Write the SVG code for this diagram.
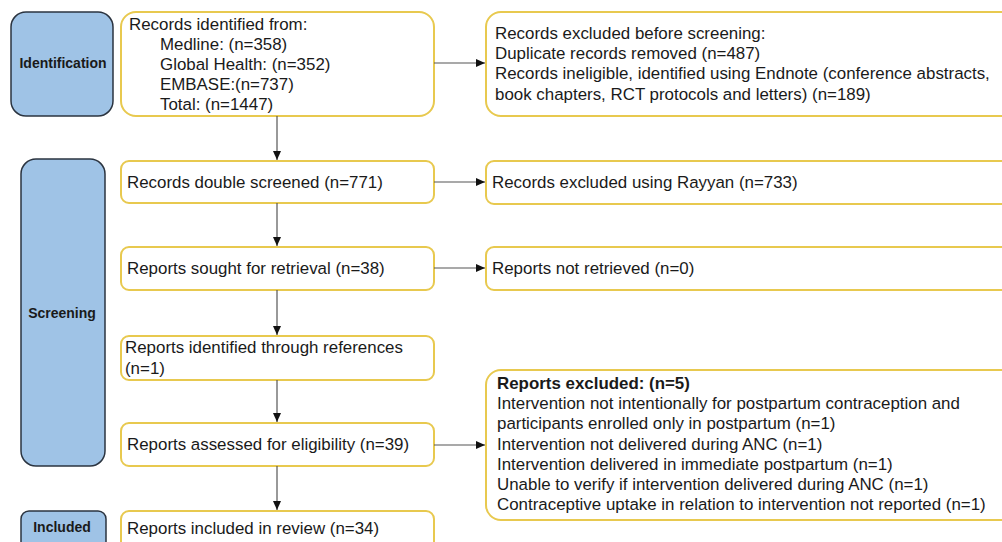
<svg xmlns="http://www.w3.org/2000/svg" width="1002" height="542" viewBox="0 0 1002 542">
<defs>
<marker id="ah" markerWidth="10" markerHeight="10" refX="9" refY="5" orient="auto" markerUnits="userSpaceOnUse">
<path d="M0,1 L9,5 L0,9 Z" fill="#111"/>
</marker>
<style>
.phase{fill:#9fc3e6;stroke:#2b3440;stroke-width:1.5}
.box{fill:#fff;stroke:#e8c94f;stroke-width:2}
.t{font-family:"Liberation Sans",Arial,sans-serif;font-size:16.9px;fill:#1a1a1a}
.pl{font-family:"Liberation Sans",Arial,sans-serif;font-size:14px;font-weight:bold;fill:#1a1a1a;text-anchor:middle}
.b{font-weight:bold}
.c{stroke:#555;stroke-width:1.2;fill:none;marker-end:url(#ah)}
</style>
</defs>
<rect width="1002" height="542" fill="#fff"/>
<g id="phase-identification"><rect class="phase" x="11" y="12" width="102" height="104" rx="15"/><text class="pl" x="63" y="68">Identification</text></g>
<g id="phase-screening"><rect class="phase" x="21" y="159" width="84" height="307" rx="15"/><text class="pl" x="62" y="318">Screening</text></g>
<g id="phase-included"><rect class="phase" x="21" y="511" width="85" height="50" rx="8"/><text class="pl" x="62" y="532">Included</text></g>

<g id="n-identified"><rect class="box" x="121" y="12" width="313" height="104" rx="15"/>
<text class="t" x="129" y="30">Records identified from:</text>
<text class="t" x="160" y="50">Medline: (n=358)</text>
<text class="t" x="160" y="70">Global Health: (n=352)</text>
<text class="t" x="160" y="90">EMBASE:(n=737)</text>
<text class="t" x="160" y="110">Total: (n=1447)</text></g>

<g id="n-excluded-before"><rect class="box" x="486" y="12" width="530" height="104" rx="15"/>
<text class="t" x="495" y="39">Records excluded before screening:</text>
<text class="t" x="495" y="59">Duplicate records removed (n=487)</text>
<text class="t" x="495" y="79">Records ineligible, identified using Endnote (conference abstracts,</text>
<text class="t" x="495" y="100">book chapters, RCT protocols and letters) (n=189)</text></g>

<g id="n-screened"><rect class="box" x="121" y="161" width="313" height="42" rx="8"/>
<text class="t" x="127" y="188">Records double screened (n=771)</text></g>
<g id="n-rayyan"><rect class="box" x="486" y="161" width="530" height="43" rx="8"/>
<text class="t" x="492" y="188">Records excluded using Rayyan (n=733)</text></g>

<g id="n-sought"><rect class="box" x="121" y="247" width="313" height="43" rx="8"/>
<text class="t" x="127" y="274">Reports sought for retrieval (n=38)</text></g>
<g id="n-notretrieved"><rect class="box" x="486" y="247" width="530" height="43" rx="8"/>
<text class="t" x="492" y="274">Reports not retrieved (n=0)</text></g>

<g id="n-references"><rect class="box" x="121" y="336" width="313" height="44" rx="8"/>
<text class="t" x="125" y="353">Reports identified through references</text>
<text class="t" x="125" y="374">(n=1)</text></g>

<g id="n-assessed"><rect class="box" x="121" y="423" width="313" height="43" rx="8"/>
<text class="t" x="127" y="450">Reports assessed for eligibility (n=39)</text></g>

<g id="n-reports-excluded"><rect class="box" x="486" y="370" width="530" height="150" rx="15"/>
<text class="t b" x="497" y="389">Reports excluded: (n=5)</text>
<text class="t" x="497" y="409">Intervention not intentionally for postpartum contraception and</text>
<text class="t" x="497" y="429">participants enrolled only in postpartum (n=1)</text>
<text class="t" x="497" y="450">Intervention not delivered during ANC (n=1)</text>
<text class="t" x="497" y="470">Intervention delivered in immediate postpartum (n=1)</text>
<text class="t" x="497" y="490">Unable to verify if intervention delivered during ANC (n=1)</text>
<text class="t" x="497" y="510">Contraceptive uptake in relation to intervention not reported (n=1)</text></g>

<g id="n-included"><rect class="box" x="121" y="511" width="313" height="50" rx="8"/>
<text class="t" x="127" y="534">Reports included in review (n=34)</text></g>

<g id="connectors">
<line class="c" x1="434" y1="63" x2="485" y2="63"/>
<line class="c" x1="277" y1="116" x2="277" y2="160"/>
<line class="c" x1="434" y1="182" x2="485" y2="182"/>
<line class="c" x1="277" y1="203" x2="277" y2="246"/>
<line class="c" x1="434" y1="268" x2="485" y2="268"/>
<line class="c" x1="277" y1="290" x2="277" y2="335"/>
<line class="c" x1="277" y1="380" x2="277" y2="422"/>
<line class="c" x1="434" y1="445" x2="485" y2="445"/>
<line class="c" x1="277" y1="466" x2="277" y2="510"/>
</g>
</svg>
